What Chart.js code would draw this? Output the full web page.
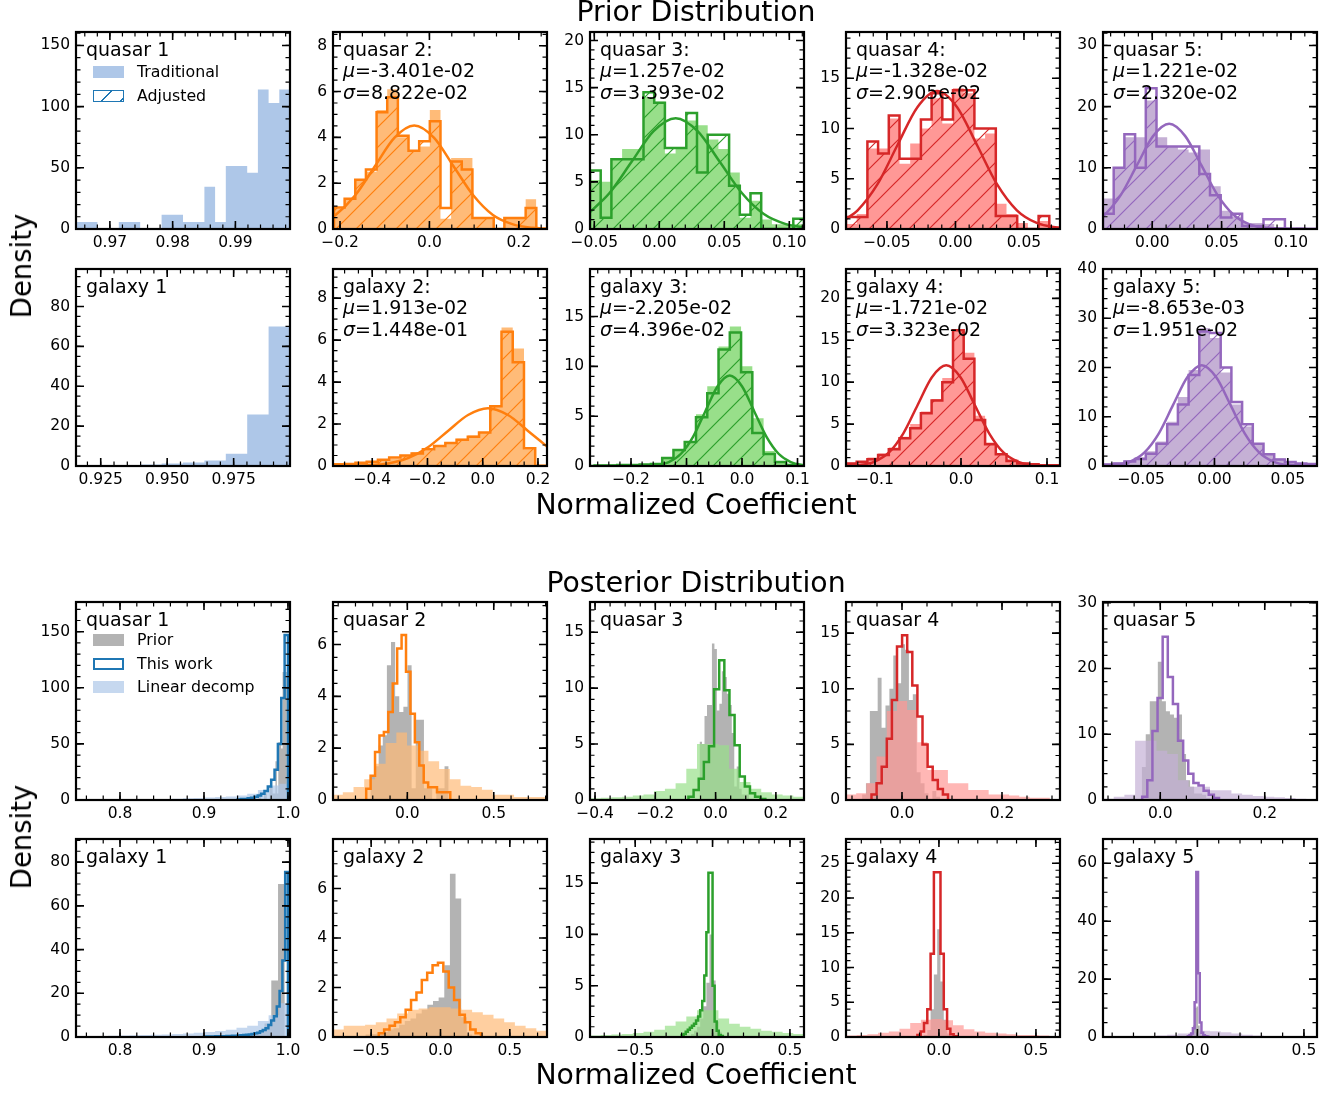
<!DOCTYPE html>
<html>
<head>
<meta charset="utf-8">
<script src="https://cdn.jsdelivr.net/npm/chart.js@4.4.1/dist/chart.umd.min.js"></script>
<style>
  html, body { margin: 0; padding: 0; background: #fff; }
  #fig { position: relative; width: 1339px; height: 1093px; overflow: hidden; background: #fff;
         font-family: "DejaVu Sans", sans-serif; color: #000; }
  #fig canvas { position: absolute; }
  .lbl { position: absolute; white-space: nowrap; }
  .title { font-size: 28.3px; line-height: 28px; transform: translate(-50%, -50%); }
  .ylab { font-size: 27.5px; line-height: 28px; transform: translate(-50%, -50%) rotate(-90deg); }
  .note { font-size: 19px; line-height: 21.5px; }
  .leg { font-size: 15.8px; line-height: 18px; transform: translateY(-50%); }
  .patch { position: absolute; width: 31px; height: 12px; box-sizing: border-box; }
</style>
</head>
<body>
<div id="fig"></div>
<script>
// ---------------- data ----------------
// fitted parameters printed in the prior panels (objects 2..5)
const quasarMu = [-3.401e-2, 1.257e-2, -1.328e-2, 1.221e-2];
const quasarSigma = [8.822e-2, 3.393e-2, 2.905e-2, 2.320e-2];
const galaxyMu = [1.913e-2, -2.205e-2, -1.721e-2, -8.653e-3];
const galaxySigma = [1.448e-1, 4.396e-2, 3.323e-2, 1.951e-2];

// axis limits / ticks, one entry per column
const priorQXLim = [[0.9646, 0.9987], [-0.2157, 0.263], [-0.0533, 0.1113], [-0.0799, 0.0763], [-0.0355, 0.1188]];
const priorQYMax = [161, 8.6, 20.9, 19.6, 32.2];
const priorQXTicks = [[0.97, 0.98, 0.99], [-0.2, 0, 0.2], [-0.05, 0, 0.05, 0.1], [-0.05, 0, 0.05], [0, 0.05, 0.1]];
const priorQYTicks = [[0, 50, 100, 150], [0, 2, 4, 6, 8], [0, 5, 10, 15, 20], [0, 5, 10, 15], [0, 10, 20, 30]];

const priorGXLim = [[0.9157, 0.9962], [-0.542, 0.2327], [-0.2739, 0.1117], [-0.1337, 0.1151], [-0.076, 0.0699]];
const priorGYMax = [98.8, 9.39, 19.77, 23.5, 40];
const priorGXTicks = [[0.925, 0.95, 0.975], [-0.4, -0.2, 0, 0.2], [-0.2, -0.1, 0, 0.1], [-0.1, 0, 0.1], [-0.05, 0, 0.05]];
const priorGYTicks = [[0, 20, 40, 60, 80], [0, 2, 4, 6, 8], [0, 5, 10, 15], [0, 5, 10, 15, 20], [0, 10, 20, 30, 40]];

const postQXLim = [[0.7476, 1.0024], [-0.43, 0.808], [-0.4167, 0.2933], [-0.112, 0.316], [-0.1096, 0.30]];
const postQYMax = [176.5, 7.64, 17.7, 17.8, 30.1];
const postQXTicks = [[0.8, 0.9, 1.0], [0, 0.5], [-0.4, -0.2, 0, 0.2], [0, 0.2], [0, 0.2]];
const postQYTicks = [[0, 50, 100, 150], [0, 2, 4, 6], [0, 5, 10, 15], [0, 5, 10, 15], [0, 10, 20, 30]];

const postGXLim = [[0.7476, 1.0024], [-0.775, 0.768], [-0.792, 0.591], [-0.479, 0.624], [-0.443, 0.5613]];
const postGYMax = [90.6, 8.0, 19.3, 28.5, 68.4];
const postGXTicks = [[0.8, 0.9, 1.0], [-0.5, 0, 0.5], [-0.5, 0, 0.5], [0, 0.5], [0, 0.5]];
const postGYTicks = [[0, 20, 40, 60, 80], [0, 2, 4, 6], [0, 5, 10, 15], [0, 5, 10, 15, 20, 25], [0, 20, 40, 60]];

// prior histograms: bin range + densities ("Traditional" filled, "Adjusted" hatched) + fitted curve
const q1Range = [0.9646, 0.9987];
const q1Trad = [5.7, 5.7, 0, 0, 5.7, 5.7, 0, 0, 11.6, 11.6, 5.7, 5.7, 34.6, 5.7, 51.4, 51.4, 46, 114, 103, 114];

const q2Range = [-0.2135, 0.2391];
const q2Trad = [0.9, 1.3, 2.1, 2.5, 5.2, 6.1, 4.0, 3.4, 3.6, 5.2, 0.45, 3.1, 3.1, 0.45, 0.45, 0, 0.45, 0.45, 1.3];
const q2Adj = [0.94, 1.32, 2.15, 2.6, 5.1, 5.75, 4.07, 3.42, 3.83, 4.7, 0.92, 2.95, 2.6, 0.48, 0.48, 0, 0.48, 0.48, 0.92];
const q2FitX = [-0.216, -0.210, -0.166, -0.122, -0.078, -0.034, 0.010, 0.054, 0.098, 0.142, 0.187, 0.231, 0.263];
const q2FitY = [0.54, 0.61, 1.47, 2.74, 3.99, 4.52, 3.99, 2.74, 1.47, 0.61, 0.20, 0.05, 0.02];

const q3Range = [-0.0533, 0.1113];
const q3Trad = [5.2, 5.0, 7.5, 8.5, 8.5, 14.0, 13.5, 8.0, 8.6, 11.5, 11.0, 9.5, 8.5, 6.0, 1.2, 3.0, 1.0, 0.5, 0.5, 0.5];
const q3Adj = [6.2, 1.2, 7.4, 7.4, 7.4, 14.5, 13.4, 8.6, 8.6, 12.3, 6.0, 10.0, 10.0, 4.6, 1.5, 3.8, 0, 0, 0, 1.1];
const q3FitX = [-0.0533, -0.0383, -0.0213, -0.0044, 0.0126, 0.0295, 0.0465, 0.0635, 0.0804, 0.0974, 0.1113];
const q3FitY = [1.79, 3.82, 7.13, 10.38, 11.76, 10.38, 7.13, 3.82, 1.59, 0.52, 0.17];

const q4Range = [-0.0799, 0.0763];
const q4Trad = [0.5, 1.5, 8.0, 8.0, 11.0, 6.5, 8.5, 10.0, 13.0, 10.5, 14.0, 13.5, 9.0, 9.5, 2.5, 1.5, 0.6, 0, 0.8, 0.3];
const q4Adj = [1.2, 1.2, 8.7, 7.5, 11.3, 7.0, 7.0, 10.9, 13.5, 10.9, 13.8, 13.8, 10.0, 10.0, 1.3, 1.3, 0, 0, 1.3, 0];
const q4FitX = [-0.0799, -0.0714, -0.0569, -0.0424, -0.0278, -0.0133, 0.0012, 0.0158, 0.0303, 0.0448, 0.0593, 0.0739, 0.0763];
const q4FitY = [0.99, 1.86, 4.46, 8.33, 12.12, 13.73, 12.12, 8.33, 4.46, 1.86, 0.60, 0.15, 0.12];

const q5Range = [-0.0355, 0.1188];
const q5Trad = [5.0, 10.0, 15.0, 15.0, 21.0, 15.0, 13.5, 13.0, 12.5, 13.0, 7.0, 3.0, 2.0, 1.0, 1.0, 0.8, 0.3, 0.2, 0.3, 0.1];
const q5Adj = [2.5, 10.0, 15.5, 10.0, 23.0, 13.5, 13.5, 13.5, 13.5, 9.0, 5.5, 1.9, 2.5, 0.5, 0.5, 1.6, 1.6, 0, 0, 0];
const q5FitX = [-0.0355, -0.0342, -0.0226, -0.0110, 0.0006, 0.0122, 0.0238, 0.0354, 0.0470, 0.0586, 0.0702, 0.0818, 0.1188];
const q5FitY = [2.08, 2.33, 5.58, 10.43, 15.18, 17.20, 15.18, 10.43, 5.58, 2.33, 0.75, 0.19, 0];

const g1Range = [0.9157, 0.9962];
const g1Trad = [0, 0.2, 0.5, 0.8, 1.3, 1.8, 2.8, 6.2, 25.8, 70];

const g2TradRange = [-0.542, 0.2307];
const g2Trad = [0.1, 0.12, 0.15, 0.2, 0.3, 0.35, 0.5, 0.65, 0.75, 0.95, 1.1, 1.3, 1.45, 1.6, 2.9, 6.6, 5.6, 0.8, 0.1];
const g2AdjRange = [-0.542, 0.19];
const g2Adj = [0.08, 0.1, 0.15, 0.2, 0.3, 0.4, 0.5, 0.6, 0.8, 0.95, 1.1, 1.25, 1.4, 1.6, 2.85, 6.4, 4.95, 0.85];
const g2FitX = [-0.542, -0.4877, -0.4153, -0.3429, -0.2705, -0.1981, -0.1257, -0.0533, 0.0191, 0.0915, 0.1639, 0.2327];
const g2FitY = [0.0015, 0.006, 0.031, 0.121, 0.373, 0.895, 1.671, 2.431, 2.755, 2.431, 1.671, 0.928];

const g3Range = [-0.2656, 0.1201];
const g3Trad = [0.05, 0.1, 0.1, 0.15, 0.2, 0.3, 0.8, 1.5, 2.5, 5.2, 8.0, 12.0, 14.0, 10.0, 4.8, 1.5, 0.5, 0.2, 0.1];
const g3Adj = [0.05, 0.05, 0.1, 0.1, 0.15, 0.2, 0.8, 1.6, 2.4, 4.9, 7.3, 11.7, 13.4, 9.4, 3.3, 1.2, 0.4, 0.1, 0.05];
const g3FitX = [-0.2739, -0.1759, -0.1539, -0.1319, -0.1099, -0.0880, -0.0660, -0.0440, -0.0221, -0.0001, 0.0219, 0.0439, 0.0659, 0.0879, 0.1098, 0.1117];
const g3FitY = [0, 0.02, 0.10, 0.40, 1.23, 2.95, 5.50, 8.01, 9.08, 8.01, 5.50, 2.95, 1.23, 0.40, 0.10, 0.09];

const g4Range = [-0.1337, 0.1151];
const g4Trad = [0.4, 0.6, 1.0, 1.5, 2.2, 3.5, 5.0, 6.5, 8.0, 10.5, 16.3, 13.5, 6.0, 2.8, 1.5, 0.8, 0.4, 0.2, 0.1, 0.1];
const g4Adj = [0.3, 0.5, 0.8, 1.3, 2.0, 3.3, 4.5, 6.3, 7.8, 10.0, 16.2, 12.8, 5.5, 2.6, 1.4, 0.6, 0.3, 0.2, 0.1, 0.1];
const g4FitX = [-0.1337, -0.1169, -0.1003, -0.0837, -0.0670, -0.0504, -0.0338, -0.0172, -0.0006, 0.0160, 0.0327, 0.0493, 0.0659, 0.0825, 0.1151];
const g4FitY = [0.03, 0.13, 0.53, 1.62, 3.90, 7.28, 10.59, 12.01, 10.59, 7.28, 3.90, 1.62, 0.53, 0.13, 0.004];

const g5Range = [-0.076, 0.0699];
const g5Trad = [0.5, 0.7, 1.2, 1.8, 3.0, 5.0, 9.0, 14.0, 19.5, 28.0, 26.0, 19.0, 12.5, 8.0, 4.5, 2.5, 1.5, 0.8, 0.5, 0.3];
const g5Adj = [0.3, 0.5, 0.9, 1.4, 2.5, 4.5, 8.5, 12.5, 18.5, 27.3, 27.0, 20.0, 13.0, 8.5, 4.5, 2.4, 1.3, 0.8, 0.5, 0.4];
const g5FitX = [-0.076, -0.0672, -0.0575, -0.0477, -0.0379, -0.0282, -0.0184, -0.0087, 0.0011, 0.0109, 0.0206, 0.0304, 0.0401, 0.0499, 0.0699];
const g5FitY = [0.05, 0.23, 0.90, 2.77, 6.64, 12.40, 18.05, 20.45, 18.05, 12.40, 6.64, 2.77, 0.90, 0.23, 0.01];

// posterior histograms: "This work" (step) and "Linear decomp" (filled)
const pq1WorkRange = [0.94, 1.0];
const pq1Work = [0.5, 0.8, 1.0, 1.5, 2.0, 3.0, 4.0, 5.5, 8.0, 12.0, 18.0, 27.0, 50.0, 91.0, 147.0];
const pq1Lin = [0.2, 0.2, 0.3, 0.3, 0.4, 0.5, 0.6, 0.8, 1.0, 1.2, 1.5, 1.8, 2.2, 2.6, 3.2, 4.0, 5.5, 9.0, 13.0, 14.5];

const pq2WorkRange = [-0.238, 0.2484];
const pq2Work = [0.43, 0.94, 1.85, 2.49, 2.62, 3.4, 4.5, 5.85, 6.37, 4.95, 3.33, 2.23, 1.33, 0.68, 0.49, 0.49, 0.3, 0.3, 0.3];
const pq2LinRange = [-0.497, 0.865];
const pq2Lin = [0.15, 0.2, 0.3, 0.5, 0.8, 1.4, 2.2, 2.6, 2.1, 1.9, 1.5, 1.2, 0.8, 0.55, 0.5, 0.4, 0.2, 0.2, 0.12, 0.12, 0.12, 0.1];

const pq3WorkRange = [-0.09, 0.165];
const pq3Work = [0.3, 0.9, 1.9, 3.4, 4.8, 9.9, 12.5, 9.8, 7.6, 4.9, 2.1, 1.2, 0.6, 0.3, 0.1];
const pq3Lin = [0.15, 0.2, 0.25, 0.3, 0.4, 0.5, 0.8, 1.0, 1.5, 2.8, 5.0, 5.0, 4.9, 2.8, 1.6, 1.0, 0.7, 0.5, 0.4, 0.3];

const pq4WorkRange = [-0.061, 0.092];
const pq4Work = [0.5, 1.5, 3.0, 5.5, 9.0, 13.8, 14.8, 13.3, 10.3, 7.5, 5.0, 3.0, 1.8, 1.0, 0.5];
const pq4Lin = [0.5, 0.6, 1.5, 3.9, 8.0, 8.9, 8.1, 5.2, 2.7, 2.7, 1.5, 1.5, 0.9, 0.9, 0.5, 0.5, 0.4, 0.3, 0.2, 0.2, 0.1];

const pq5WorkRange = [-0.0346, 0.1124];
const pq5Work = [0.5, 3.0, 10.5, 15.5, 24.8, 18.7, 14.6, 9.0, 6.0, 4.0, 2.6, 2.2, 1.4, 0.8, 0.3];
const pq5Lin = [0.2, 0.5, 0.8, 9.0, 9.0, 7.5, 7.0, 3.0, 2.0, 2.0, 1.5, 1.5, 1.0, 0.8, 0.6, 0.5, 0.4, 0.3, 0.2, 0.1];

const pg1WorkRange = [0.9, 1.0];
const pg1Work = [0.2, 0.2, 0.25, 0.25, 0.3, 0.3, 0.35, 0.4, 0.45, 0.5, 0.55, 0.6, 0.7, 0.8, 0.9, 1.0, 1.2, 1.4, 1.7, 2.0, 2.6, 3.2, 4.0, 5.5, 7.5, 9.5, 14.0, 21.0, 35.0, 75.5];
const pg1Lin = [0.4, 0.5, 0.5, 0.6, 0.7, 0.8, 0.9, 1.0, 1.2, 1.4, 1.6, 1.9, 2.3, 2.7, 3.3, 4.2, 5.2, 7.3, 10.0, 15.5];

const pg2WorkRange = [-0.445, 0.292];
const pg2Work = [0.15, 0.3, 0.45, 0.6, 0.8, 1.1, 1.5, 1.8, 2.3, 2.6, 2.9, 3.0, 2.65, 2.0, 1.5, 0.9, 0.6, 0.3, 0.15];
const pg2Lin = [0.3, 0.45, 0.45, 0.5, 0.6, 0.75, 0.95, 1.1, 1.15, 1.2, 1.2, 1.15, 1.1, 1.0, 0.9, 0.75, 0.6, 0.45, 0.35, 0.25];

const pg3PriorRange = [-0.14, 0.06];
const pg3Prior = [0.3, 0.6, 1.0, 1.8, 3.0, 5.3, 10.0, 5.5, 1.5, 0.5];
const pg3WorkRange = [-0.2, 0.0667];
const pg3Work = [0.2, 0.3, 0.5, 0.7, 0.9, 1.1, 1.3, 1.6, 2.0, 2.6, 3.5, 6.0, 10.2, 16.0, 16.0, 5.0, 1.5, 0.6, 0.2, 0.1];
const pg3Lin = [0.15, 0.2, 0.25, 0.3, 0.4, 0.5, 0.7, 1.1, 1.5, 2.0, 2.6, 2.6, 1.8, 1.3, 1.0, 0.8, 0.6, 0.5, 0.4, 0.3];

const pg4PriorRange = [-0.077, 0.059];
const pg4Prior = [0.3, 1.0, 4.0, 9.0, 15.5, 8.0, 2.5, 0.5];
const pg4WorkRange = [-0.111, 0.093];
const pg4Work = [0.3, 0.8, 2.0, 4.0, 12.0, 23.7, 23.7, 12.0, 4.0, 1.2, 0.4, 0.1];
const pg4Lin = [0.2, 0.3, 0.4, 0.6, 0.8, 1.2, 2.0, 2.5, 2.6, 2.4, 1.7, 1.1, 0.8, 0.6, 0.5, 0.4, 0.3, 0.3, 0.2, 0.1];

const pg5PriorRange = [-0.045, 0.035];
const pg5Prior = [0.3, 0.6, 1.5, 4.0, 10.0, 10.5, 4.0, 1.5, 0.5, 0.2];
const pg5WorkRange = [-0.045, 0.051];
const pg5Work = [0.3, 0.6, 1.2, 3.0, 12.0, 57.0, 22.0, 5.0, 1.5, 0.6, 0.3, 0.2];
const pg5Lin = [0.1, 0.1, 0.15, 0.2, 0.3, 0.5, 0.8, 1.2, 1.5, 2.2, 2.0, 1.6, 1.2, 0.8, 0.5, 0.3, 0.2, 0.1, 0.1, 0.1];

// ---------------- layout / style ----------------
const colLeft = [76, 333, 590, 846, 1103];
const rowTop = [32, 269, 602, 839];
const rowH = [197, 197, 198, 198];
const panelW = 214;
const padL = 50, padR = 26, padT = 10, padB = 26;
const xDecimals = [[2, 1, 2, 2, 2], [3, 1, 1, 1, 2], [1, 1, 1, 1, 1], [1, 1, 1, 1, 1]];
const xMinor = [[0.002, 0.05, 0.01, 0.01, 0.01], [0.005, 0.05, 0.02, 0.02, 0.01], [0.02, 0.1, 0.05, 0.05, 0.05], [0.02, 0.1, 0.1, 0.1, 0.1]];
const yMinor = [[10, 0.5, 1, 1, 2], [5, 0.5, 1, 1, 2], [10, 0.5, 1, 1, 2], [5, 0.5, 1, 1, 5]];
const dark = ['#1f77b4', '#ff7f0e', '#2ca02c', '#d62728', '#9467bd'];
const light = ['#aec7e8', '#ffbb78', '#98df8a', '#ff9896', '#c5b0d5'];
const priorGray = 'rgba(128,128,128,0.6)';
const tickFont = { family: 'DejaVu Sans', size: 15.5 };

const fig = document.getElementById('fig');

function rgba(hex, a) {
    const n = parseInt(hex.slice(1), 16);
    return 'rgba(' + (n >> 16) + ',' + ((n >> 8) & 255) + ',' + (n & 255) + ',' + a + ')';
}

// histogram outline as points for a stepped line (bin edges evenly spread over range)
function steps(range, h) {
    const w = (range[1] - range[0]) / h.length;
    const pts = [{ x: range[0], y: 0 }];
    h.forEach((v, i) => pts.push({ x: range[0] + i * w, y: v }));
    pts.push({ x: range[1], y: h[h.length - 1] });
    pts.push({ x: range[1], y: 0 });
    return pts;
}

function fmt(v, d) {
    return v.toFixed(d).replace('-', '\u2212');
}

function fmtE(v) {
    return v.toExponential(3).replace(/e([+-])(\d)$/, (m, s, d) => 'e' + s + '0' + d);
}

function hatch(ctx, color) {
    const S = 20;
    const tile = document.createElement('canvas');
    tile.width = S; tile.height = S;
    const g = tile.getContext('2d');
    g.strokeStyle = color;
    g.lineWidth = 1.2;
    g.beginPath();
    g.moveTo(-2, S + 2); g.lineTo(S + 2, -2);
    g.moveTo(-2, 2); g.lineTo(2, -2);
    g.moveTo(S - 2, S + 2); g.lineTo(S + 2, S - 2);
    g.stroke();
    return ctx.createPattern(tile, 'repeat');
}

function makeDataset(layer, c, ctx) {
    const kind = layer[0], a = layer[1], b = layer[2];
    const base = { pointRadius: 0, tension: 0, stepped: 'before', borderWidth: 0, borderColor: 'rgba(0,0,0,0)', fill: false };
    if (kind === 'trad') return Object.assign(base, { data: steps(a, b), fill: 'origin', backgroundColor: light[c], order: 5 });
    if (kind === 'prior') return Object.assign(base, { data: steps(a, b), fill: 'origin', backgroundColor: priorGray, order: 5 });
    if (kind === 'lin') return Object.assign(base, { data: steps(a, b), fill: 'origin', backgroundColor: rgba(light[c], 0.7), order: 4 });
    if (kind === 'adj') return Object.assign(base, { data: steps(a, b), fill: 'origin', backgroundColor: hatch(ctx, dark[c]), borderColor: dark[c], borderWidth: 2.5, order: 2 });
    if (kind === 'work') return Object.assign(base, { data: steps(a, b), borderColor: dark[c], borderWidth: 2.5, order: 1 });
    // fitted gaussian curve
    return { pointRadius: 0, data: a.map((x, i) => ({ x: x, y: b[i] })), cubicInterpolationMode: 'monotone',
             borderColor: dark[c], borderWidth: 2.5, fill: false, order: 0 };
}

function minorVals(lo, hi, step) {
    const out = [];
    for (let k = Math.ceil(lo / step - 1e-6); k * step <= hi + 1e-9; k++) out.push(k * step);
    return out;
}

function framePlugin(xTicks, yTicks, xm, ym) {
    return {
        id: 'frame',
        afterDraw(chart) {
            const ctx = chart.ctx, a = chart.chartArea, x = chart.scales.x, y = chart.scales.y;
            ctx.save();
            ctx.strokeStyle = '#000';
            const marks = (xs, ys, len, lw) => {
                ctx.lineWidth = lw;
                ctx.beginPath();
                xs.forEach(v => {
                    const p = x.getPixelForValue(v);
                    ctx.moveTo(p, a.bottom); ctx.lineTo(p, a.bottom - len);
                    ctx.moveTo(p, a.top); ctx.lineTo(p, a.top + len);
                });
                ys.forEach(v => {
                    const p = y.getPixelForValue(v);
                    ctx.moveTo(a.left, p); ctx.lineTo(a.left + len, p);
                    ctx.moveTo(a.right, p); ctx.lineTo(a.right - len, p);
                });
                ctx.stroke();
            };
            marks(minorVals(x.min, x.max, xm), minorVals(0, y.max, ym), 4.5, 1.2);
            marks(xTicks, yTicks, 8, 1.6);
            ctx.lineWidth = 2.2;
            ctx.strokeRect(a.left, a.top, a.width, a.height);
            ctx.restore();
        }
    };
}

function buildPanel(r, c, xLim, yMax, xTicks, yTicks, layers) {
    const cv = document.createElement('canvas');
    cv.width = padL + panelW + padR;
    cv.height = padT + rowH[r] + padB;
    cv.style.left = (colLeft[c] - padL) + 'px';
    cv.style.top = (rowTop[r] - padT) + 'px';
    fig.appendChild(cv);
    const ctx = cv.getContext('2d');
    const xd = xDecimals[r][c];

    new Chart(ctx, {
        type: 'line',
        data: { datasets: layers.map(l => makeDataset(l, c, ctx)) },
        options: {
            responsive: false,
            animation: false,
            events: [],
            layout: { padding: { left: 0, right: padR, top: padT, bottom: 0 }, autoPadding: false },
            plugins: { legend: { display: false }, tooltip: { enabled: false } },
            scales: {
                x: {
                    type: 'linear', min: xLim[0], max: xLim[1],
                    grid: { display: false, drawTicks: false }, border: { display: false },
                    ticks: { color: '#000', font: tickFont, padding: 5, maxRotation: 0, minRotation: 0, autoSkip: false,
                             callback: v => fmt(v, xd) },
                    afterBuildTicks: s => { s.ticks = xTicks.map(v => ({ value: v })); },
                    afterFit: s => { s.height = padB; s.paddingLeft = 0; s.paddingRight = 0; }
                },
                y: {
                    type: 'linear', min: 0, max: yMax,
                    grid: { display: false, drawTicks: false }, border: { display: false },
                    ticks: { color: '#000', font: tickFont, padding: 6, autoSkip: false, callback: v => fmt(v, 0) },
                    afterBuildTicks: s => { s.ticks = yTicks.map(v => ({ value: v })); },
                    afterFit: s => { s.width = padL; s.paddingTop = 0; s.paddingBottom = 0; }
                }
            }
        },
        plugins: [framePlugin(xTicks, yTicks, xMinor[r][c], yMinor[r][c])]
    });
}

function addText(html, left, top, cls) {
    const d = document.createElement('div');
    d.className = 'lbl ' + cls;
    d.innerHTML = html;
    d.style.left = left + 'px';
    d.style.top = top + 'px';
    fig.appendChild(d);
    return d;
}

function addPatch(left, top, css) {
    const d = document.createElement('div');
    d.className = 'patch';
    d.style.left = left + 'px';
    d.style.top = top + 'px';
    Object.assign(d.style, css);
    fig.appendChild(d);
}

// ---------------- panels ----------------
const priorQLayers = [
    [['trad', q1Range, q1Trad]],
    [['trad', q2Range, q2Trad], ['adj', q2Range, q2Adj], ['fit', q2FitX, q2FitY]],
    [['trad', q3Range, q3Trad], ['adj', q3Range, q3Adj], ['fit', q3FitX, q3FitY]],
    [['trad', q4Range, q4Trad], ['adj', q4Range, q4Adj], ['fit', q4FitX, q4FitY]],
    [['trad', q5Range, q5Trad], ['adj', q5Range, q5Adj], ['fit', q5FitX, q5FitY]]
];
const priorGLayers = [
    [['trad', g1Range, g1Trad]],
    [['trad', g2TradRange, g2Trad], ['adj', g2AdjRange, g2Adj], ['fit', g2FitX, g2FitY]],
    [['trad', g3Range, g3Trad], ['adj', g3Range, g3Adj], ['fit', g3FitX, g3FitY]],
    [['trad', g4Range, g4Trad], ['adj', g4Range, g4Adj], ['fit', g4FitX, g4FitY]],
    [['trad', g5Range, g5Trad], ['adj', g5Range, g5Adj], ['fit', g5FitX, g5FitY]]
];
const postQLayers = [
    [['prior', q1Range, q1Trad], ['lin', postQXLim[0], pq1Lin], ['work', pq1WorkRange, pq1Work]],
    [['prior', q2Range, q2Trad], ['lin', pq2LinRange, pq2Lin], ['work', pq2WorkRange, pq2Work]],
    [['prior', q3Range, q3Trad], ['lin', postQXLim[2], pq3Lin], ['work', pq3WorkRange, pq3Work]],
    [['prior', q4Range, q4Trad], ['lin', postQXLim[3], pq4Lin], ['work', pq4WorkRange, pq4Work]],
    [['prior', q5Range, q5Trad], ['lin', postQXLim[4], pq5Lin], ['work', pq5WorkRange, pq5Work]]
];
const postGLayers = [
    [['prior', g1Range, g1Trad], ['lin', postGXLim[0], pg1Lin], ['work', pg1WorkRange, pg1Work]],
    [['prior', g2TradRange, g2Trad], ['lin', postGXLim[1], pg2Lin], ['work', pg2WorkRange, pg2Work]],
    [['prior', pg3PriorRange, pg3Prior], ['lin', postGXLim[2], pg3Lin], ['work', pg3WorkRange, pg3Work]],
    [['prior', pg4PriorRange, pg4Prior], ['lin', postGXLim[3], pg4Lin], ['work', pg4WorkRange, pg4Work]],
    [['prior', pg5PriorRange, pg5Prior], ['lin', postGXLim[4], pg5Lin], ['work', pg5WorkRange, pg5Work]]
];

for (let c = 0; c < 5; c++) {
    buildPanel(0, c, priorQXLim[c], priorQYMax[c], priorQXTicks[c], priorQYTicks[c], priorQLayers[c]);
    buildPanel(1, c, priorGXLim[c], priorGYMax[c], priorGXTicks[c], priorGYTicks[c], priorGLayers[c]);
    buildPanel(2, c, postQXLim[c], postQYMax[c], postQXTicks[c], postQYTicks[c], postQLayers[c]);
    buildPanel(3, c, postGXLim[c], postGYMax[c], postGXTicks[c], postGYTicks[c], postGLayers[c]);
}

// ---------------- text ----------------
for (let c = 0; c < 5; c++) {
    const k = c + 1;
    let qp = 'quasar ' + k, gp = 'galaxy ' + k;
    if (c > 0) {
        qp = 'quasar ' + k + ':<br><i>\u03bc</i>=' + fmtE(quasarMu[c - 1]) + '<br><i>\u03c3</i>=' + fmtE(quasarSigma[c - 1]);
        gp = 'galaxy ' + k + ':<br><i>\u03bc</i>=' + fmtE(galaxyMu[c - 1]) + '<br><i>\u03c3</i>=' + fmtE(galaxySigma[c - 1]);
    }
    addText(qp, colLeft[c] + 10, rowTop[0] + 6.5, 'note');
    addText(gp, colLeft[c] + 10, rowTop[1] + 6.5, 'note');
    addText('quasar ' + k, colLeft[c] + 10, rowTop[2] + 7, 'note');
    addText('galaxy ' + k, colLeft[c] + 10, rowTop[3] + 7, 'note');
}

// legends
addPatch(93, 66, { background: light[0] });
addText('Traditional', 137, 72, 'leg');
addPatch(93, 90, { border: '1.6px solid ' + dark[0],
    background: 'repeating-linear-gradient(135deg, rgba(0,0,0,0) 0px, rgba(0,0,0,0) 12px, ' + dark[0] + ' 12px, ' + dark[0] + ' 13.2px)' });
addText('Adjusted', 137, 96, 'leg');

addPatch(93, 634, { background: priorGray });
addText('Prior', 137, 640, 'leg');
addPatch(93, 657.5, { border: '2.5px solid ' + dark[0] });
addText('This work', 137, 663.5, 'leg');
addPatch(93, 681, { background: rgba(light[0], 0.7) });
addText('Linear decomp', 137, 687, 'leg');

// figure titles and axis labels
addText('Prior Distribution', 696, 12, 'title');
addText('Normalized Coefficient', 696, 505, 'title');
addText('Posterior Distribution', 696, 583, 'title');
addText('Normalized Coefficient', 696, 1075, 'title');
addText('Density', 21, 266, 'ylab');
addText('Density', 21, 837, 'ylab');
</script>
</body>
</html>
